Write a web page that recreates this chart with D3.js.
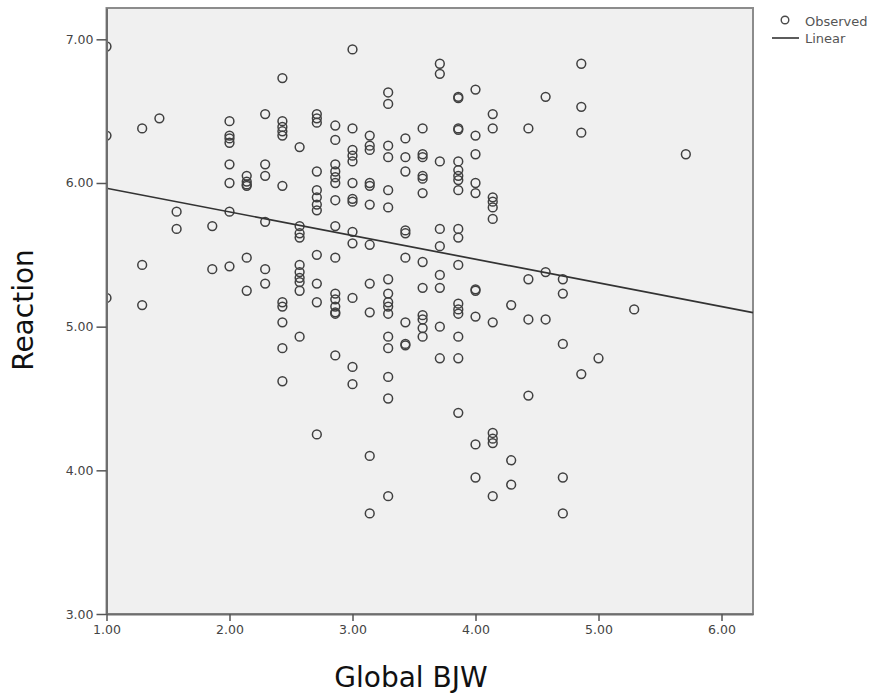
<!DOCTYPE html>
<html>
<head>
<meta charset="utf-8">
<script src="https://cdn.jsdelivr.net/npm/d3@7/dist/d3.min.js"></script>
<style>
  html, body { margin: 0; padding: 0; background: #fff; }
  svg { display: block; }
  .tick text { font-family: "DejaVu Sans", sans-serif; font-size: 12.5px; fill: #444; }
</style>
</head>
<body>
<svg id="chart" width="878" height="696"></svg>
<script>
// ---- data ----
const bjw = [
  1.00, 1.00, 1.00,
  1.29, 1.29, 1.29,
  1.43,
  1.57, 1.57,
  1.86, 1.86,
  2.00, 2.00, 2.00, 2.00, 2.00, 2.00, 2.00, 2.00,
  2.14, 2.14, 2.14, 2.14, 2.14, 2.14,
  2.29, 2.29, 2.29, 2.29, 2.29, 2.29,
  2.43, 2.43, 2.43, 2.43, 2.43, 2.43, 2.43, 2.43, 2.43, 2.43, 2.43,
  2.57, 2.57, 2.57, 2.57, 2.57, 2.57, 2.57, 2.57, 2.57, 2.57,
  2.71, 2.71, 2.71, 2.71, 2.71, 2.71, 2.71, 2.71, 2.71, 2.71, 2.71, 2.71,
  2.86, 2.86, 2.86, 2.86, 2.86, 2.86, 2.86, 2.86, 2.86, 2.86, 2.86, 2.86, 2.86, 2.86, 2.86,
  3.00, 3.00, 3.00, 3.00, 3.00, 3.00, 3.00, 3.00, 3.00, 3.00, 3.00, 3.00, 3.00,
  3.14, 3.14, 3.14, 3.14, 3.14, 3.14, 3.14, 3.14, 3.14, 3.14, 3.14,
  3.29, 3.29, 3.29, 3.29, 3.29, 3.29, 3.29, 3.29, 3.29, 3.29, 3.29, 3.29, 3.29, 3.29, 3.29, 3.29,
  3.43, 3.43, 3.43, 3.43, 3.43, 3.43, 3.43, 3.43, 3.43,
  3.57, 3.57, 3.57, 3.57, 3.57, 3.57, 3.57, 3.57, 3.57, 3.57, 3.57, 3.57,
  3.71, 3.71, 3.71, 3.71, 3.71, 3.71, 3.71, 3.71, 3.71,
  3.86, 3.86, 3.86, 3.86, 3.86, 3.86, 3.86, 3.86, 3.86, 3.86, 3.86, 3.86, 3.86, 3.86, 3.86, 3.86, 3.86, 3.86,
  4.00, 4.00, 4.00, 4.00, 4.00, 4.00, 4.00, 4.00, 4.00, 4.00,
  4.14, 4.14, 4.14, 4.14, 4.14, 4.14, 4.14, 4.14, 4.14, 4.14, 4.14,
  4.29, 4.29, 4.29,
  4.43, 4.43, 4.43, 4.43,
  4.57, 4.57, 4.57,
  4.71, 4.71, 4.71, 4.71, 4.71,
  4.86, 4.86, 4.86, 4.86,
  5.00,
  5.29,
  5.71
];
const reaction = [
  6.95, 6.33, 5.20,
  6.38, 5.43, 5.15,
  6.45,
  5.80, 5.68,
  5.70, 5.40,
  6.43, 6.33, 6.31, 6.28, 6.13, 6.00, 5.80, 5.42,
  6.05, 6.01, 5.99, 5.98, 5.48, 5.25,
  6.48, 6.13, 6.05, 5.73, 5.40, 5.30,
  6.73, 6.43, 6.39, 6.36, 6.33, 5.98, 5.17, 5.14, 5.03, 4.85, 4.62,
  6.25, 5.70, 5.65, 5.62, 5.43, 5.38, 5.34, 5.31, 5.25, 4.93,
  6.48, 6.45, 6.42, 6.08, 5.95, 5.90, 5.85, 5.81, 5.50, 5.30, 5.17, 4.25,
  6.40, 6.30, 6.13, 6.08, 6.04, 6.00, 5.88, 5.70, 5.48, 5.23, 5.19, 5.14, 5.10, 5.09, 4.80,
  6.93, 6.38, 6.23, 6.19, 6.15, 6.00, 5.89, 5.87, 5.66, 5.58, 5.20, 4.72, 4.60,
  6.33, 6.26, 6.23, 6.00, 5.98, 5.85, 5.57, 5.30, 5.10, 4.10, 3.70,
  6.63, 6.55, 6.26, 6.18, 5.95, 5.83, 5.33, 5.23, 5.17, 5.14, 5.09, 4.93, 4.85, 4.65, 4.50, 3.82,
  6.31, 6.18, 6.08, 5.67, 5.65, 5.48, 5.03, 4.87, 4.88,
  6.38, 6.20, 6.18, 6.05, 6.03, 5.93, 5.45, 5.27, 5.08, 5.05, 4.99, 4.93,
  6.83, 6.76, 6.15, 5.68, 5.56, 5.36, 5.27, 5.00, 4.78,
  6.59, 6.60, 6.38, 6.37, 6.15, 6.09, 6.05, 6.02, 5.95, 5.68, 5.62, 5.43, 5.16, 5.12, 5.09, 4.93, 4.78, 4.40,
  6.65, 6.33, 6.20, 6.00, 5.93, 5.26, 5.25, 5.07, 4.18, 3.95,
  6.48, 6.38, 5.90, 5.87, 5.83, 5.75, 5.03, 4.26, 4.22, 4.19, 3.82,
  5.15, 4.07, 3.90,
  6.38, 5.33, 5.05, 4.52,
  6.60, 5.38, 5.05,
  5.33, 5.23, 4.88, 3.95, 3.70,
  6.83, 6.53, 6.35, 4.67,
  4.78,
  5.12,
  6.20
];
// linear fit line as drawn in the reference
const fitIntercept = 6.128;
const fitSlope = -0.1646;

const xTicks = [1, 2, 3, 4, 5, 6];
const yTicks = [3, 4, 5, 6, 7];
const xDomain = [1, 6.256];
const yDomain = [3, 7.218];
const xTitle = "Global BJW";
const yTitle = "Reaction";
const legendLabels = ["Observed", "Linear"];

// ---- layout ----
const plotL = 106.5, plotR = 753, plotT = 8, plotB = 614;
const svg = d3.select("#chart");

const x = d3.scaleLinear().domain(xDomain).range([plotL, plotR]);
const y = d3.scaleLinear().domain(yDomain).range([plotB, plotT]);

svg.append("defs").append("clipPath").attr("id", "plotclip")
  .append("rect")
  .attr("x", plotL).attr("y", plotT)
  .attr("width", plotR - plotL).attr("height", plotB - plotT);

// plot background
svg.append("rect")
  .attr("x", plotL).attr("y", plotT)
  .attr("width", plotR - plotL).attr("height", plotB - plotT)
  .attr("fill", "#f0f0f0")
  .attr("stroke", "#8c8c8c").attr("stroke-width", 2);

// points
const pts = bjw.map((d, i) => ({ x: d, y: reaction[i] }));
svg.append("g")
  .attr("clip-path", "url(#plotclip)")
  .selectAll("circle")
  .data(pts)
  .join("circle")
  .attr("cx", d => x(d.x))
  .attr("cy", d => y(d.y))
  .attr("r", 4.4)
  .attr("fill", "none")
  .attr("stroke", "#404040")
  .attr("stroke-width", 1.5);

// fit line
svg.append("line")
  .attr("x1", x(xDomain[0])).attr("y1", y(fitIntercept + fitSlope * xDomain[0]))
  .attr("x2", x(xDomain[1])).attr("y2", y(fitIntercept + fitSlope * xDomain[1]))
  .attr("stroke", "#333").attr("stroke-width", 1.7);

// axes
const fmt = d3.format(".2f");
const yAxis = svg.append("g")
  .attr("transform", `translate(${plotL},0)`)
  .call(d3.axisLeft(y).tickValues(yTicks).tickFormat(fmt).tickSize(10).tickSizeOuter(0).tickPadding(3));
yAxis.select(".domain").attr("stroke", "#6e6e6e").attr("stroke-width", 2);
yAxis.selectAll(".tick line").attr("stroke", "#555").attr("stroke-width", 1.5);

const xAxis = svg.append("g")
  .attr("transform", `translate(0,${plotB})`)
  .call(d3.axisBottom(x).tickValues(xTicks).tickFormat(fmt).tickSize(7).tickSizeOuter(0).tickPadding(4));
xAxis.select(".domain").attr("stroke", "#6e6e6e").attr("stroke-width", 2);
xAxis.selectAll(".tick line").attr("stroke", "#555").attr("stroke-width", 1.5);

// axis titles
svg.append("text")
  .attr("x", 411).attr("y", 687)
  .attr("text-anchor", "middle")
  .attr("font-family", "DejaVu Sans, sans-serif")
  .attr("font-size", 28)
  .attr("fill", "#111")
  .text(xTitle);

svg.append("text")
  .attr("transform", "translate(33,310) rotate(-90)")
  .attr("text-anchor", "middle")
  .attr("font-family", "DejaVu Sans, sans-serif")
  .attr("font-size", 28)
  .attr("fill", "#111")
  .text(yTitle);

// legend
const lg = svg.append("g");
lg.append("circle").attr("cx", 785).attr("cy", 20).attr("r", 3.8)
  .attr("fill", "none").attr("stroke", "#4a4a4a").attr("stroke-width", 1.4);
lg.append("text").attr("x", 805).attr("y", 25.5)
  .attr("font-family", "DejaVu Sans, sans-serif").attr("font-size", 13).attr("fill", "#555")
  .text(legendLabels[0]);
lg.append("line").attr("x1", 772).attr("x2", 799).attr("y1", 38).attr("y2", 38)
  .attr("stroke", "#333").attr("stroke-width", 1.6);
lg.append("text").attr("x", 805).attr("y", 42.5)
  .attr("font-family", "DejaVu Sans, sans-serif").attr("font-size", 13).attr("fill", "#555")
  .text(legendLabels[1]);
</script>
</body>
</html>
